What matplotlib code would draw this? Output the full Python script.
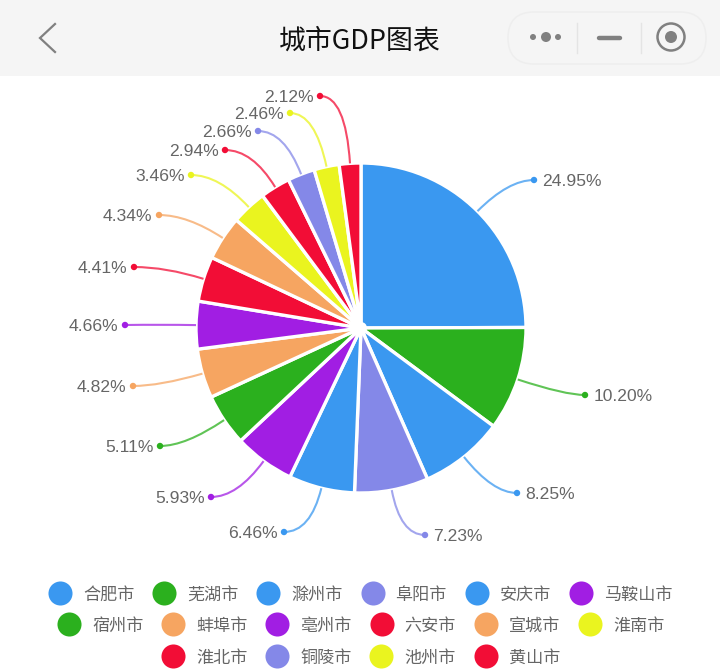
import numpy as np
import matplotlib
matplotlib.use("Agg")
import matplotlib.pyplot as plt
from matplotlib.patches import Circle, FancyBboxPatch, PathPatch, Rectangle
from matplotlib.path import Path

SANS = ['Liberation Sans', 'DejaVu Sans']
CJK = ['Noto Sans CJK SC', 'DejaVu Sans']

cities = ['合肥市', '芜湖市', '滁州市', '阜阳市', '安庆市', '马鞍山市', '宿州市', '蚌埠市',
          '亳州市', '六安市', '宣城市', '淮南市', '淮北市', '铜陵市', '池州市', '黄山市']
shares = [24.95, 10.20, 8.25, 7.23, 6.46, 5.93, 5.11, 4.82,
          4.66, 4.41, 4.34, 3.46, 2.94, 2.66, 2.46, 2.12]

BLUE, GREEN, PERI, PURPLE = '#3A98F0', '#2BB01E', '#8488E8', '#A11EE3'
ORANGE, RED, YELLOW = '#F6A561', '#F20D36', '#EAF41F'
colors = [BLUE, GREEN, BLUE, PERI, BLUE, PURPLE, GREEN, ORANGE,
          PURPLE, RED, ORANGE, YELLOW, RED, PERI, YELLOW, RED]

# Layout of the leader-line ends, in pixels
label_x = [534, 585, 517, 425, 284, 211, 160, 133, 125, 134, 159, 191, 225, 258, 290, 320]
label_y = [180, 395, 493, 535, 532, 497, 446, 386, 325, 267, 215, 175, 150, 131, 113, 96]

CX, CY, R = 361, 328, 165
GREY = '#666666'
ICON = '#808080'

fig = plt.figure(figsize=(7.2, 6.72), dpi=100, facecolor='white')
ax = fig.add_axes([0, 0, 1, 1])

# Pie: y axis is inverted, so counterclock + -90 runs clockwise from 12 o'clock on screen
ax.pie(shares, colors=colors, center=(CX, CY), radius=R, startangle=-90, counterclock=True,
       frame=True, wedgeprops=dict(edgecolor='white', linewidth=2.4))
ax.set_xlim(0, 720)
ax.set_ylim(672, 0)
ax.axis('off')
ax.add_patch(Circle((CX, CY), 6, facecolor='white', edgecolor='none', zorder=3))

# Leader lines, dots and labels
cum = np.cumsum(shares)
mids = (cum - np.array(shares) / 2) / cum[-1] * 2 * np.pi
for s, c, m, lx, ly in zip(shares, colors, mids, label_x, label_y):
    ux, uy = np.sin(m), -np.cos(m)
    sx, sy = CX + R * ux, CY + R * uy
    if abs(uy) > 0.15:
        t = max((ly - sy) / uy, 0)
    else:
        t = abs(lx - sx) * 0.5
    t = min(t, np.hypot(lx - sx, ly - sy))
    qx, qy = sx + t * ux, sy + t * uy
    path = Path([(sx, sy), (qx, qy), (lx, ly)], [Path.MOVETO, Path.CURVE3, Path.CURVE3])
    ax.add_patch(PathPatch(path, fill=False, edgecolor=c, linewidth=1.5, alpha=0.75, zorder=3))
    ax.add_patch(Circle((lx, ly), 3.2, facecolor=c, edgecolor='none', zorder=4))
    right = lx > CX
    ax.text(lx + (8.5 if right else -6.5), ly, f'{s:.2f}%', color=GREY, fontsize=12.6, family=SANS,
            ha='left' if right else 'right', va='center_baseline', zorder=5)

# Legend
row_sizes = [6, 6, 4]
row_start = [60, 69, 173]
row_y = [593, 624, 656]
idx = 0
for n, x0, y in zip(row_sizes, row_start, row_y):
    for j in range(n):
        x = x0 + j * 104.2
        ax.scatter([x], [y], s=300, color=colors[idx], linewidths=0, zorder=3)
        ax.text(x + 23, y, cities[idx], color=GREY, fontsize=12.3, family=CJK,
                ha='left', va='center_baseline')
        idx += 1

# Title bar
ax.add_patch(Rectangle((0, 0), 720, 76, facecolor='#F5F5F5', edgecolor='none', zorder=1))
ax.text(360, 38, '城市GDP图表', color='#111111', fontsize=19.4, family=CJK,
        ha='center', va='center_baseline', zorder=6)
ax.plot([55, 40, 55], [24, 38, 52], color=ICON, linewidth=1.6, zorder=6, solid_joinstyle='miter')
ax.add_patch(FancyBboxPatch((508, 12), 198, 52, boxstyle='round,pad=0,rounding_size=26',
                            facecolor='#F5F5F5', edgecolor='#EEEEEE',
                            linewidth=1.1, zorder=2))
for x, r in [(533, 3), (546, 5), (558, 3)]:
    ax.add_patch(Circle((x, 37), r, facecolor=ICON, edgecolor='none', zorder=6))
for x in (577, 641):
    ax.plot([x, x], [23, 53], color='#E4E4E4', linewidth=1, zorder=6)
ax.plot([599, 620], [38, 38], color=ICON, linewidth=3.2, zorder=6, solid_capstyle='round')
ax.add_patch(Circle((671, 37), 13.5, facecolor='none', edgecolor=ICON, linewidth=1.8, zorder=6))
ax.add_patch(Circle((671, 37), 6, facecolor=ICON, edgecolor='none', zorder=6))

fig.savefig('out.png', dpi=100, facecolor='white')
